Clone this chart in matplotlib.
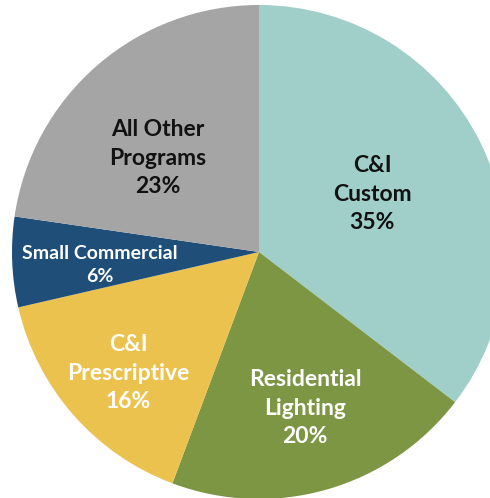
import matplotlib
matplotlib.use("Agg")
import matplotlib.pyplot as plt

categories = ["C&I\nCustom", "Residential\nLighting", "C&I\nPrescriptive", "Small Commercial", "All Other\nPrograms"]
values = [35.4, 20.3, 15.7, 5.9, 22.7]
colors = ["#9FCFC8", "#7D9643", "#EBC24E", "#1F4E79", "#A5A5A5"]
text_colors = ["#111111", "white", "white", "white", "#111111"]
# label centres in pixels (x, y from top)
label_px = [(372, 194), (305, 408), (128, 373), (100, 265), (158, 158)]
font_sizes = [16.5, 16.5, 16.5, 14, 16.5]
line_sp = [1.42, 1.42, 1.42, 1.4, 1.42]

W, H = 490, 498
cx, cy, R = 259, 252, 247

fig = plt.figure(figsize=(W / 100, H / 100), dpi=100)
ax = fig.add_axes([0, 0, 1, 1])
ax.pie(values, colors=colors, startangle=90, counterclock=False, radius=1.0,
       wedgeprops=dict(linewidth=0))
ax.set_xlim(-cx / R, (W - cx) / R)
ax.set_ylim(-(H - cy) / R, cy / R)
ax.set_aspect("auto")
ax.axis("off")

for cat, v, (px, py), tc, fs, ls in zip(categories, values, label_px, text_colors, font_sizes, line_sp):
    x = (px - cx) / R
    y = (cy - py) / R
    ax.text(x, y, f"{cat}\n{round(v)}%", ha="center", va="center", color=tc,
            fontsize=fs, fontweight="bold", family="Lato", linespacing=ls)

fig.savefig("out.png", dpi=100)
